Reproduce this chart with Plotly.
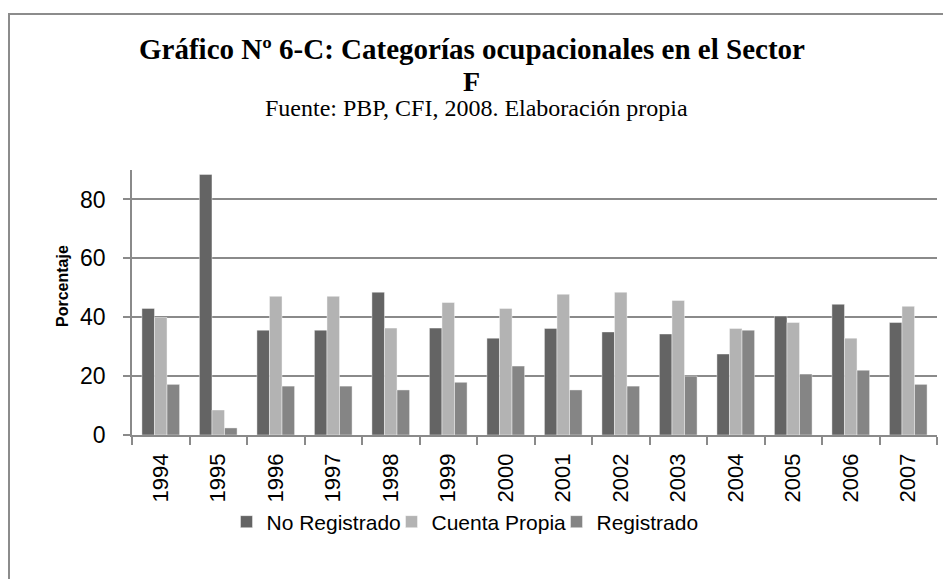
import plotly.graph_objects as go

years = ["1994", "1995", "1996", "1997", "1998", "1999", "2000",
         "2001", "2002", "2003", "2004", "2005", "2006", "2007"]
no_registrado = [43.0, 88.5, 35.6, 35.6, 48.5, 36.3, 32.9, 36.2, 35.0, 34.3, 27.5, 40.4, 44.4, 38.2]
cuenta_propia = [39.9, 8.5, 47.1, 47.1, 36.3, 45.0, 43.0, 47.8, 48.5, 45.7, 36.2, 38.2, 32.9, 43.7]
registrado = [17.2, 2.4, 16.6, 16.6, 15.3, 17.9, 23.4, 15.3, 16.6, 20.0, 35.6, 20.7, 22.0, 17.2]

series_names = ["No Registrado", "Cuenta Propia", "Registrado"]
series_colors = ["#646464", "#b3b3b3", "#858585"]

# page offset of the figure (body margin)
OFF = 8
W, H = 951 - OFF, 579 - OFF
L, R, T, B = 132 - OFF, 14, 170 - OFF, 579 - 435
pw, ph = W - L - R, H - T - B

def px(x):  # page x -> paper
    return (x - OFF - L) / pw

def py(y):  # page y -> paper
    return (H - B - (y - OFF)) / ph

fig = go.Figure()
for name, vals, col in zip(series_names, [no_registrado, cuenta_propia, registrado], series_colors):
    fig.add_trace(go.Bar(
        x=years, y=vals, name=name,
        marker=dict(color=col, line=dict(color="rgba(255,255,255,0.6)", width=0.7)),
    ))

fig.update_layout(
    width=W, height=H,
    margin=dict(l=L, r=R, t=T, b=B, autoexpand=False),
    paper_bgcolor="white", plot_bgcolor="white",
    barmode="group", bargap=0.345, bargroupgap=0,
    font=dict(family="Liberation Sans, Arial, sans-serif", color="#000000"),
    showlegend=True,
    legend=dict(orientation="h", x=px(474), xanchor="center", y=py(522), yanchor="middle",
                font=dict(size=21), itemwidth=30, traceorder="normal",
                entrywidth=120, entrywidthmode="pixels"),
    xaxis=dict(
        type="category", tickangle=-90, tickfont=dict(size=22),
        showline=True, linecolor="#8a8a8a", linewidth=1.5,
        ticks="outside", tickson="boundaries", ticklen=8, tickcolor="#8a8a8a", tickwidth=1.5,
        showgrid=False, ticklabelstandoff=8,
    ),
    yaxis=dict(
        range=[0, 90], dtick=20, tick0=0, tickfont=dict(size=23),
        showline=True, linecolor="#8a8a8a", linewidth=1.5,
        ticks="outside", ticklen=7, tickcolor="#8a8a8a", tickwidth=1.5,
        showgrid=True, gridcolor="#8a8a8a", gridwidth=1.5,
        zeroline=False, ticklabelstandoff=13,
    ),
)

fig.add_annotation(x=px(62), y=py(286), xref="paper", yref="paper",
                   text="<b>Porcentaje</b>", textangle=-90,
                   showarrow=False, xanchor="center", yanchor="middle",
                   font=dict(size=16, color="#000"))

serif = "Liberation Serif, Times New Roman, serif"
fig.add_annotation(x=px(471.5), y=py(49), xref="paper", yref="paper",
                   text="<b>Gráfico Nº 6-C: Categorías ocupacionales en el Sector</b>",
                   showarrow=False, xanchor="center", yanchor="middle",
                   font=dict(family=serif, size=29, color="#000"))
fig.add_annotation(x=px(471.5), y=py(81), xref="paper", yref="paper",
                   text="<b>F</b>",
                   showarrow=False, xanchor="center", yanchor="middle",
                   font=dict(family=serif, size=28, color="#000"))
fig.add_annotation(x=px(476.5), y=py(108), xref="paper", yref="paper",
                   text="Fuente: PBP, CFI, 2008. Elaboración propia",
                   showarrow=False, xanchor="center", yanchor="middle",
                   font=dict(family=serif, size=24, color="#000"))

fig.add_shape(type="rect", xref="paper", yref="paper",
              x0=px(9), x1=px(975), y0=py(14), y1=py(600),
              line=dict(color="#8c8c8c", width=2), fillcolor="rgba(0,0,0,0)", layer="below")

fig.write_html("out.html")
